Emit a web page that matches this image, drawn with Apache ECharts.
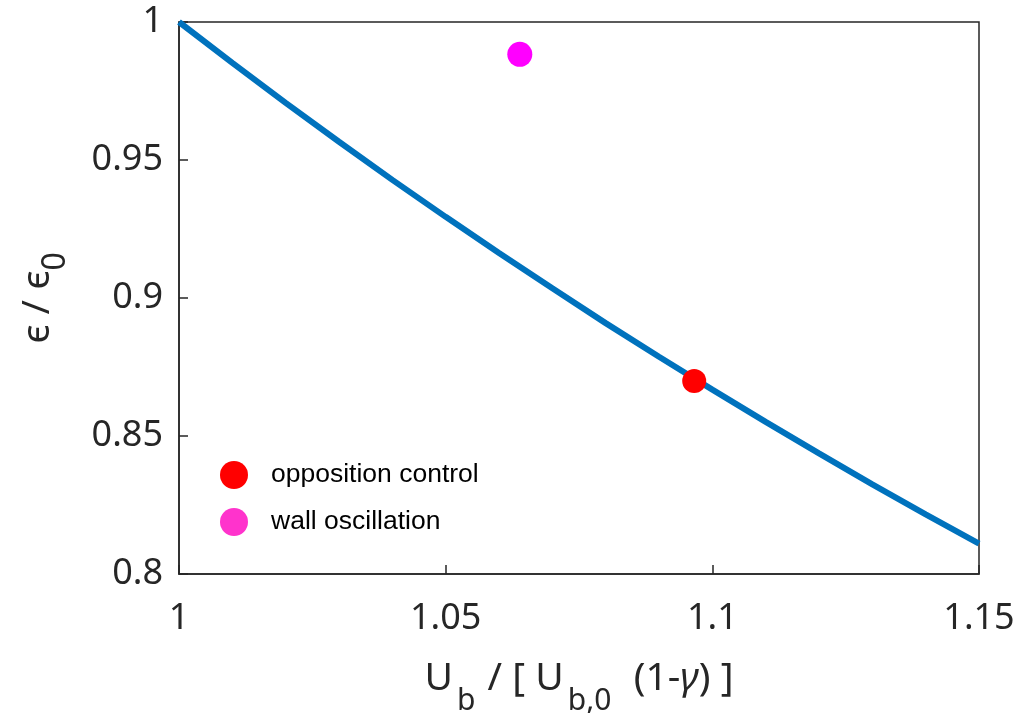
<!DOCTYPE html>
<html>
<head>
<meta charset="utf-8">
<script src="https://cdn.jsdelivr.net/npm/echarts@6/dist/echarts.min.js"></script>
<style>
html,body{margin:0;padding:0;background:#fff;}
#chart{width:1019px;height:713px;}
</style>
</head>
<body>
<div id="chart"></div>
<script>
// Curve
var curveX = [1.00, 1.01, 1.02, 1.03, 1.04, 1.05, 1.06, 1.07, 1.08, 1.09, 1.10, 1.11, 1.12, 1.13, 1.14, 1.15];
var curveY = [1.000, 0.9852, 0.9707, 0.9566, 0.9428, 0.9294, 0.9163, 0.9035, 0.8909, 0.8787, 0.8668, 0.8551, 0.8437, 0.8325, 0.8216, 0.8110];
// Points
var oppositionControl = [[1.0966, 0.8699]];
var wallOscillation = [[1.0639, 0.9883]];
// Ticks
var xTicks = [1, 1.05, 1.1, 1.15];
var xTickLabels = ['1', '1.05', '1.1', '1.15'];
var yTicks = [0.8, 0.85, 0.9, 0.95, 1];
var yTickLabels = ['0.8', '0.85', '0.9', '0.95', '1'];
var seriesNames = ['opposition control', 'wall oscillation'];

function labelFor(v, ticks, labels) {
  for (var i = 0; i < ticks.length; i++) {
    if (Math.abs(v - ticks[i]) < 1e-6) return labels[i];
  }
  return '';
}

var curveData = curveX.map(function (x, i) { return [x, curveY[i]]; });

var axisColor = '#262626';
var font = 'Noto Sans';

var chart = echarts.init(document.getElementById('chart'), null, {renderer: 'canvas'});
chart.setOption({
  animation: false,
  backgroundColor: '#ffffff',
  grid: {
    left: 179, right: 40, top: 22, bottom: 139,
    outerBoundsMode: 'none', containLabel: false,
    show: true, borderColor: axisColor, borderWidth: 1.5, backgroundColor: 'transparent'
  },
  legend: {
    orient: 'vertical',
    left: 220, top: 461,
    padding: 0,
    itemWidth: 28, itemHeight: 28, itemGap: 19,
    icon: 'circle',
    data: [
      {name: seriesNames[0], itemStyle: {color: '#ff0000'}},
      {name: seriesNames[1], itemStyle: {color: '#ff33cc'}}
    ],
    textStyle: {fontFamily: 'Liberation Sans', fontSize: 26.5, color: '#000000', padding: [0, 0, 0, 18]}
  },
  xAxis: {
    type: 'value', min: 1, max: 1.15, interval: 0.05,
    axisLine: {show: true, lineStyle: {color: axisColor, width: 1.5}},
    axisTick: {show: true, inside: true, length: 9, lineStyle: {color: axisColor, width: 1.5}},
    splitLine: {show: false},
    axisLabel: {
      margin: 27, color: axisColor, fontFamily: font, fontSize: 36,
      formatter: function (v) { return labelFor(v, xTicks, xTickLabels); }
    },
    name: '{m|U}{s1|b}{m| / [ U}{s1|b,0}{m|  (1-}{g|γ}{m|) ]}',
    nameLocation: 'middle',
    nameGap: 85,
    nameTextStyle: {
      color: axisColor,
      rich: {
        m: {fontFamily: font, fontSize: 39, lineHeight: 46, verticalAlign: 'top', color: axisColor},
        g: {fontFamily: font, fontSize: 39, fontStyle: 'italic', lineHeight: 46, verticalAlign: 'top', color: axisColor},
        s1: {fontFamily: font, fontSize: 30, lineHeight: 84, padding: [0, 2, 0, 4], color: axisColor}
      }
    }
  },
  yAxis: {
    type: 'value', min: 0.8, max: 1, interval: 0.05,
    axisLine: {show: true, lineStyle: {color: axisColor, width: 1.5}},
    axisTick: {show: true, inside: true, length: 9, lineStyle: {color: axisColor, width: 1.5}},
    splitLine: {show: false},
    axisLabel: {
      margin: 16, color: axisColor, fontFamily: font, fontSize: 36,
      formatter: function (v) { return labelFor(v, yTicks, yTickLabels); }
    },
    name: '{m|ϵ / ϵ}{s|0}',
    nameLocation: 'middle',
    nameGap: 85,
    nameTextStyle: {
      color: axisColor,
      rich: {
        m: {fontFamily: font, fontSize: 39, lineHeight: 46, verticalAlign: 'top', color: axisColor},
        s: {fontFamily: font, fontSize: 32, lineHeight: 76, color: axisColor}
      }
    }
  },
  series: [
    {
      type: 'line', name: 'curve', data: curveData, showSymbol: false, symbol: 'none',
      smooth: false, lineStyle: {color: '#0072bd', width: 6}, z: 2, silent: true
    },
    {
      type: 'scatter', name: seriesNames[0], data: oppositionControl, symbol: 'circle',
      symbolSize: 24, itemStyle: {color: '#ff0000', opacity: 1}, z: 3
    },
    {
      type: 'scatter', name: seriesNames[1], data: wallOscillation, symbol: 'circle',
      symbolSize: 25, itemStyle: {color: '#ff00ff', opacity: 1}, z: 3
    }
  ]
});
</script>
</body>
</html>
